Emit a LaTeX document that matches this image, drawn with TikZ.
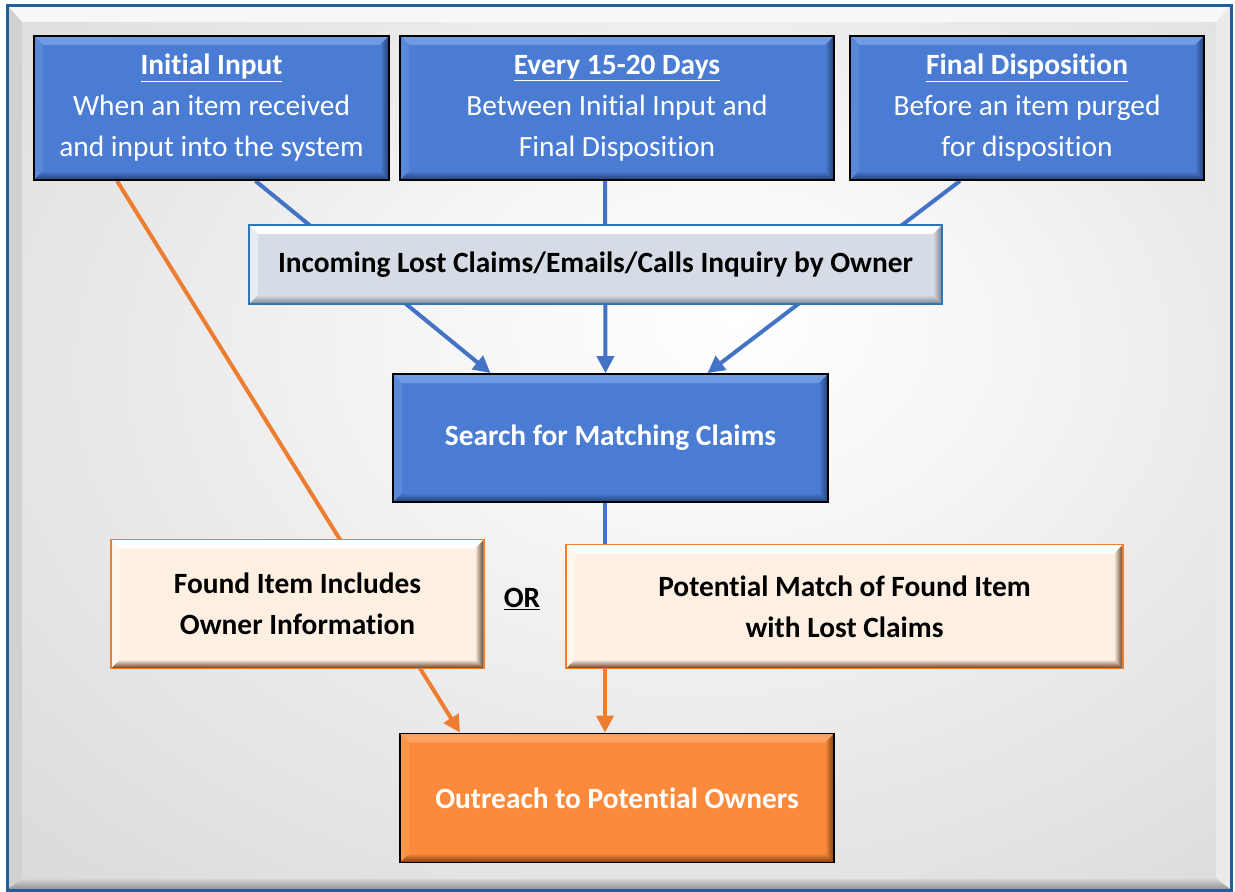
\documentclass[tikz,border=0pt]{standalone}
\usepackage{fontspec}
\setmainfont{Carlito}[Ligatures=NoCommon]
\usetikzlibrary{calc,arrows.meta}
\pgfdeclarelayer{bg}
\pgfdeclarelayer{edges}
\pgfsetlayers{bg,edges,main}

\definecolor{boxblue}{HTML}{4A7CD4}
\definecolor{blueTop}{HTML}{6F9BE4}
\definecolor{blueLeft}{HTML}{5A88D9}
\definecolor{blueDark}{HTML}{233F73}
\definecolor{lineblue}{HTML}{4472C4}
\definecolor{lineorange}{HTML}{ED7D31}
\definecolor{incfill}{HTML}{D6DCE5}
\definecolor{incLeft}{HTML}{E8ECF2}
\definecolor{incDark}{HTML}{7C828C}
\definecolor{incBorder}{HTML}{2E75B6}
\definecolor{peach}{HTML}{FDF0E3}
\definecolor{peachLeft}{HTML}{FFF7EE}
\definecolor{peachDark}{HTML}{5A3A22}
\definecolor{outfill}{HTML}{FB8A3C}
\definecolor{outTop}{HTML}{FDA262}
\definecolor{outLeft}{HTML}{FC964C}
\definecolor{outDark}{HTML}{7A3C10}
\definecolor{framebl}{HTML}{1F5F9F}

\newlength\bvw
\setlength\bvw{9pt}
% #1 top, #2 left, #3 base, #4 dark
\newcommand\bevelfill[4]{%
  \fill[#1] (path picture bounding box.north west) -- (path picture bounding box.north east)
    -- ([xshift=-\bvw,yshift=-\bvw]path picture bounding box.north east)
    -- ([xshift=\bvw,yshift=-\bvw]path picture bounding box.north west) -- cycle;
  \fill[#2] (path picture bounding box.north west)
    -- ([xshift=\bvw,yshift=-\bvw]path picture bounding box.north west)
    -- ([xshift=\bvw,yshift=\bvw]path picture bounding box.south west)
    -- (path picture bounding box.south west) -- cycle;
  \shade[left color=#3, right color=#4] (path picture bounding box.north east)
    -- (path picture bounding box.south east)
    -- ([xshift=-\bvw,yshift=\bvw]path picture bounding box.south east)
    -- ([xshift=-\bvw,yshift=-\bvw]path picture bounding box.north east) -- cycle;
  \shade[top color=#3, bottom color=#4] (path picture bounding box.south west)
    -- (path picture bounding box.south east)
    -- ([xshift=-\bvw,yshift=\bvw]path picture bounding box.south east)
    -- ([xshift=\bvw,yshift=\bvw]path picture bounding box.south west) -- cycle;
}

\newcommand\uline[1]{\underline{#1}}

\pgfdeclareradialshading{bgshade}{\pgfpoint{5bp}{8bp}}{%
  color(0bp)=(white); color(10bp)=(white!97!black); color(45bp)=(white!83!black); color(60bp)=(white!78!black)}

\tikzset{
  txt/.style={font=\fontsize{29.4}{41}\selectfont, align=center, inner sep=0pt},
  bluebox/.style={txt, draw=black, line width=1.8pt, fill=boxblue, text=white,
    path picture={\bevelfill{blueTop}{blueLeft}{boxblue}{blueDark}}},
  incbox/.style={txt, draw=incBorder, line width=1.8pt, fill=incfill, text=black,
    path picture={\bevelfill{white}{incLeft}{incfill}{incDark}}},
  peachbox/.style={txt, draw=lineorange, line width=1.8pt, fill=peach, text=black,
    path picture={\bevelfill{white}{peachLeft}{peach}{peachDark}}},
  outbox/.style={txt, draw=black, line width=1.8pt, fill=outfill, text=white,
    path picture={\bevelfill{outTop}{outLeft}{outfill}{outDark}}},
  blueline/.style={draw=lineblue, line width=4pt},
  bluearrow/.style={blueline, -{Triangle[width=17pt,length=17pt]}},
  orangearrow/.style={draw=lineorange, line width=4pt, -{Triangle[width=17pt,length=17pt]}},
}

\begin{document}
\begin{tikzpicture}[x=1pt,y=-1pt]
\useasboundingbox (0,0) rectangle (1235,892);

\begin{pgfonlayer}{bg}
  \fill[white] (0,0) rectangle (1235,892);
  % frame bevel
  \fill[white!97!black] (8,6) -- (1230,6) -- (1216,22) -- (22,22) -- cycle;
  \fill[white!82!black] (8,6) -- (22,22) -- (22,878) -- (8,889) -- cycle;
  \fill[white!92!black] (1230,6) -- (1230,889) -- (1216,878) -- (1216,22) -- cycle;
  \shade[top color=white!86!black, bottom color=white!58!black] (8,889) -- (22,878) -- (1216,878) -- (1230,889) -- cycle;
  \shade[shading=bgshade] (22,22) rectangle (1216,878);
  \draw[framebl, line width=3pt] (7,5) rectangle (1231,890);
\end{pgfonlayer}

\node[bluebox, minimum width=355pt, minimum height=144pt] (ii) at (211.5,108)
  {\textbf{\uline{Initial Input}}\\When an item received\\and input into the system};
\node[bluebox, minimum width=434pt, minimum height=144pt] (ev) at (617,108)
  {\textbf{\uline{Every 15-20 Days}}\\Between Initial Input and\\Final Disposition};
\node[bluebox, minimum width=354pt, minimum height=144pt] (fd) at (1027,108)
  {\textbf{\uline{Final Disposition}}\\Before an item purged\\for disposition};
\node[incbox, minimum width=693pt, minimum height=79pt] (inc) at (595.5,264.5)
  {\textbf{Incoming Lost Claims/Emails/Calls Inquiry by Owner}};
\node[bluebox, minimum width=435pt, minimum height=128pt] (sm) at (610.5,438)
  {\textbf{Search for Matching Claims}};
\node[peachbox, minimum width=373pt, minimum height=129pt] (fi) at (297.5,604)
  {\textbf{Found Item Includes}\\\textbf{Owner Information}};
\node[txt] (or) at (522,599) {\textbf{\uline{OR}}};
\node[peachbox, minimum width=557pt, minimum height=124pt] (pm) at (844.5,606.5)
  {\textbf{Potential Match of Found Item}\\\textbf{with Lost Claims}};
\node[outbox, minimum width=434pt, minimum height=129pt] (out) at (617,798)
  {\textbf{Outreach to Potential Owners}};

\begin{pgfonlayer}{edges}
  \draw[bluearrow] ([xshift=44pt]ii.south) -- ([xshift=-120pt]sm.north);
  \draw[bluearrow] ([xshift=-12pt]ev.south) -- ([xshift=-5pt]sm.north);
  \draw[bluearrow] ([xshift=-67pt]fd.south) -- ([xshift=97pt]sm.north);
  \draw[blueline] ([xshift=-5.5pt]sm.south) -- ([xshift=-239.5pt]pm.north);
  \draw[orangearrow] ([xshift=-94.5pt]ii.south) -- ([xshift=-157pt]out.north);
  \draw[orangearrow] ([xshift=-239.5pt]pm.south) -- ([xshift=-12pt]out.north);
\end{pgfonlayer}
\end{tikzpicture}
\end{document}
